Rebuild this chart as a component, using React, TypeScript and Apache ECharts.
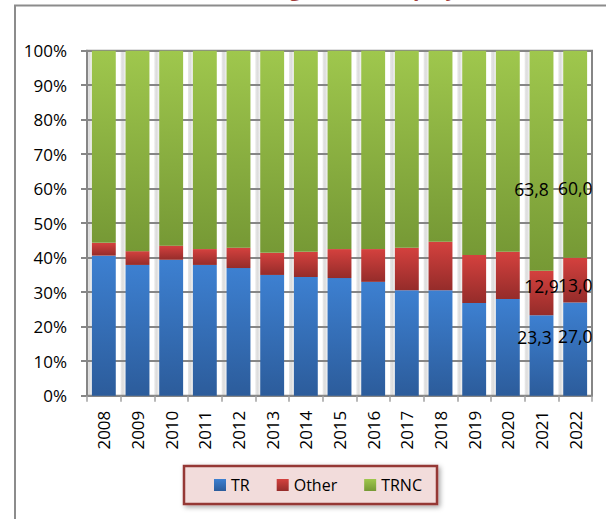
import React, { useEffect, useRef } from "react";
import * as echarts from "echarts";

const years = ["2008", "2009", "2010", "2011", "2012", "2013", "2014", "2015", "2016", "2017", "2018", "2019", "2020", "2021", "2022"];
const trValues = [40.6, 37.9, 39.4, 37.9, 37.0, 35.0, 34.4, 34.1, 33.0, 30.6, 30.6, 26.9, 28.0, 23.3, 27.0];
const otherValues = [3.7, 4.0, 4.1, 4.6, 5.9, 6.4, 7.3, 8.4, 9.5, 12.3, 14.0, 13.9, 13.7, 12.9, 13.0];
const trncValues = [55.7, 58.1, 56.5, 57.5, 57.1, 58.6, 58.3, 57.5, 57.5, 57.1, 55.4, 59.2, 58.3, 63.8, 60.0];
const seriesNames = ["TR", "Other", "TRNC"];
const yTicks = [0, 10, 20, 30, 40, 50, 60, 70, 80, 90, 100];
const titleText = "Chart 3: Distribution of Registered Employees";

const FONT = "'Open Sans', 'Noto Sans', sans-serif";

const grad = (top: string, bottom: string) =>
  new echarts.graphic.LinearGradient(0, 0, 0, 1, [
    { offset: 0, color: top },
    { offset: 1, color: bottom },
  ]);

const fmt = (v: number) => v.toFixed(1).replace(".", ",");

// label nudges for the labelled points (last two years), in pixels
const labelOffsets: Record<string, Record<number, [number, number]>> = {
  TR: { 13: [-7, -19], 14: [0, -13] },
  Other: { 13: [0, -7], 14: [0, 5] },
  TRNC: { 13: [-10, 28], 14: [0, 34] },
};

function buildData(name: string, values: number[]) {
  return values.map((v, i) => {
    const off = labelOffsets[name][i];
    if (!off) return v;
    return {
      value: v,
      label: {
        show: true,
        position: "inside",
        offset: off,
        formatter: () => fmt(v),
        color: "#000",
        fontSize: 17.5,
        fontFamily: FONT,
      },
    };
  });
}

export default function App() {
  const ref = useRef<HTMLDivElement>(null);
  useEffect(() => {
    if (!ref.current) return;
    const chart = echarts.init(ref.current, null, { renderer: "svg" });
    const axisGray = "#868686";
    const colors = [
      grad("#3d80d1", "#2c5c9b"),
      grad("#d4413e", "#952c2a"),
      grad("#9fc74d", "#769935"),
    ];
    const valueSets = [trValues, otherValues, trncValues];
    chart.setOption({
      animation: false,
      backgroundColor: "#ffffff",
      textStyle: { fontFamily: FONT },
      grid: {
        left: 87,
        right: 14,
        top: 50.7,
        bottom: 123.3,
        show: true,
        borderColor: axisGray,
        borderWidth: 2,
        backgroundColor: "transparent",
      },
      legend: {
        data: seriesNames,
        left: 214,
        top: 475,
        padding: 0,
        itemGap: 27,
        itemWidth: 12,
        itemHeight: 12,
        icon: "rect",
        textStyle: { fontSize: 16, color: "#000", fontFamily: FONT, lineHeight: 20 },
      },
      xAxis: [
        {
          type: "category",
          data: years,
          axisLine: { show: true, lineStyle: { color: axisGray, width: 2 } },
          axisTick: { show: true, length: 6, lineStyle: { color: "#a0a0a0", width: 1.5 } },
          axisLabel: { rotate: 90, margin: 15, fontSize: 17, color: "#000", fontFamily: FONT },
        },
        {
          type: "category",
          data: years,
          show: false,
        },
      ],
      yAxis: {
        type: "value",
        min: yTicks[0],
        max: yTicks[yTicks.length - 1],
        interval: 10,
        axisLine: { show: true, lineStyle: { color: axisGray, width: 2 } },
        axisTick: { show: true, length: 6, lineStyle: { color: axisGray, width: 2 } },
        axisLabel: { formatter: "{value}%", margin: 20, fontSize: 17, color: "#000", fontFamily: FONT },
        splitLine: { show: true, lineStyle: { color: axisGray, width: 2 } },
      },
      series: [
        {
          type: "bar",
          xAxisIndex: 1,
          silent: true,
          z: -1,
          barWidth: "100%",
          barCategoryGap: "0%",
          data: years.map(() => 100),
          itemStyle: {
            color: new echarts.graphic.LinearGradient(0, 0, 1, 0, [
              { offset: 0, color: "#e9e9e9" },
              { offset: 0.07, color: "#dcdcdc" },
              { offset: 0.14, color: "#f3f3f3" },
              { offset: 0.15, color: "#ffffff" },
              { offset: 1, color: "#ffffff" },
            ]),
          },
          legendHoverLink: false,
        },
        ...seriesNames.map((name, k) => ({
          name,
          type: "bar",
          stack: "total",
          barCategoryGap: "29%",
          data: buildData(name, valueSets[k]),
          itemStyle: { color: colors[k] },
        })),
      ],
      graphic: [
        {
          type: "rect",
          shape: { x: 15, y: 5.5, width: 700, height: 700 },
          style: { fill: "none", stroke: "#8c8c8c", lineWidth: 2 },
          z: 0,
        },
        {
          type: "text",
          x: 17,
          y: -1.5,
          style: {
            text: titleText,
            fill: "#a23c3a",
            fontSize: 21,
            fontWeight: "bold",
            fontFamily: FONT,
            verticalAlign: "bottom",
          },
        },
        {
          type: "rect",
          shape: { x: 184, y: 466, width: 253, height: 38 },
          style: {
            fill: "#f2dcdb",
            stroke: "#953735",
            lineWidth: 2.5,
            shadowBlur: 5,
            shadowColor: "rgba(0,0,0,0.35)",
            shadowOffsetX: 2,
            shadowOffsetY: 2,
          },
          z: 0,
        },
      ],
    });
    return () => chart.dispose();
  }, []);
  return (
    <div
      ref={ref}
      style={{ position: "fixed", left: 0, top: 0, width: 606, height: 519, background: "#fff" }}
    />
  );
}
